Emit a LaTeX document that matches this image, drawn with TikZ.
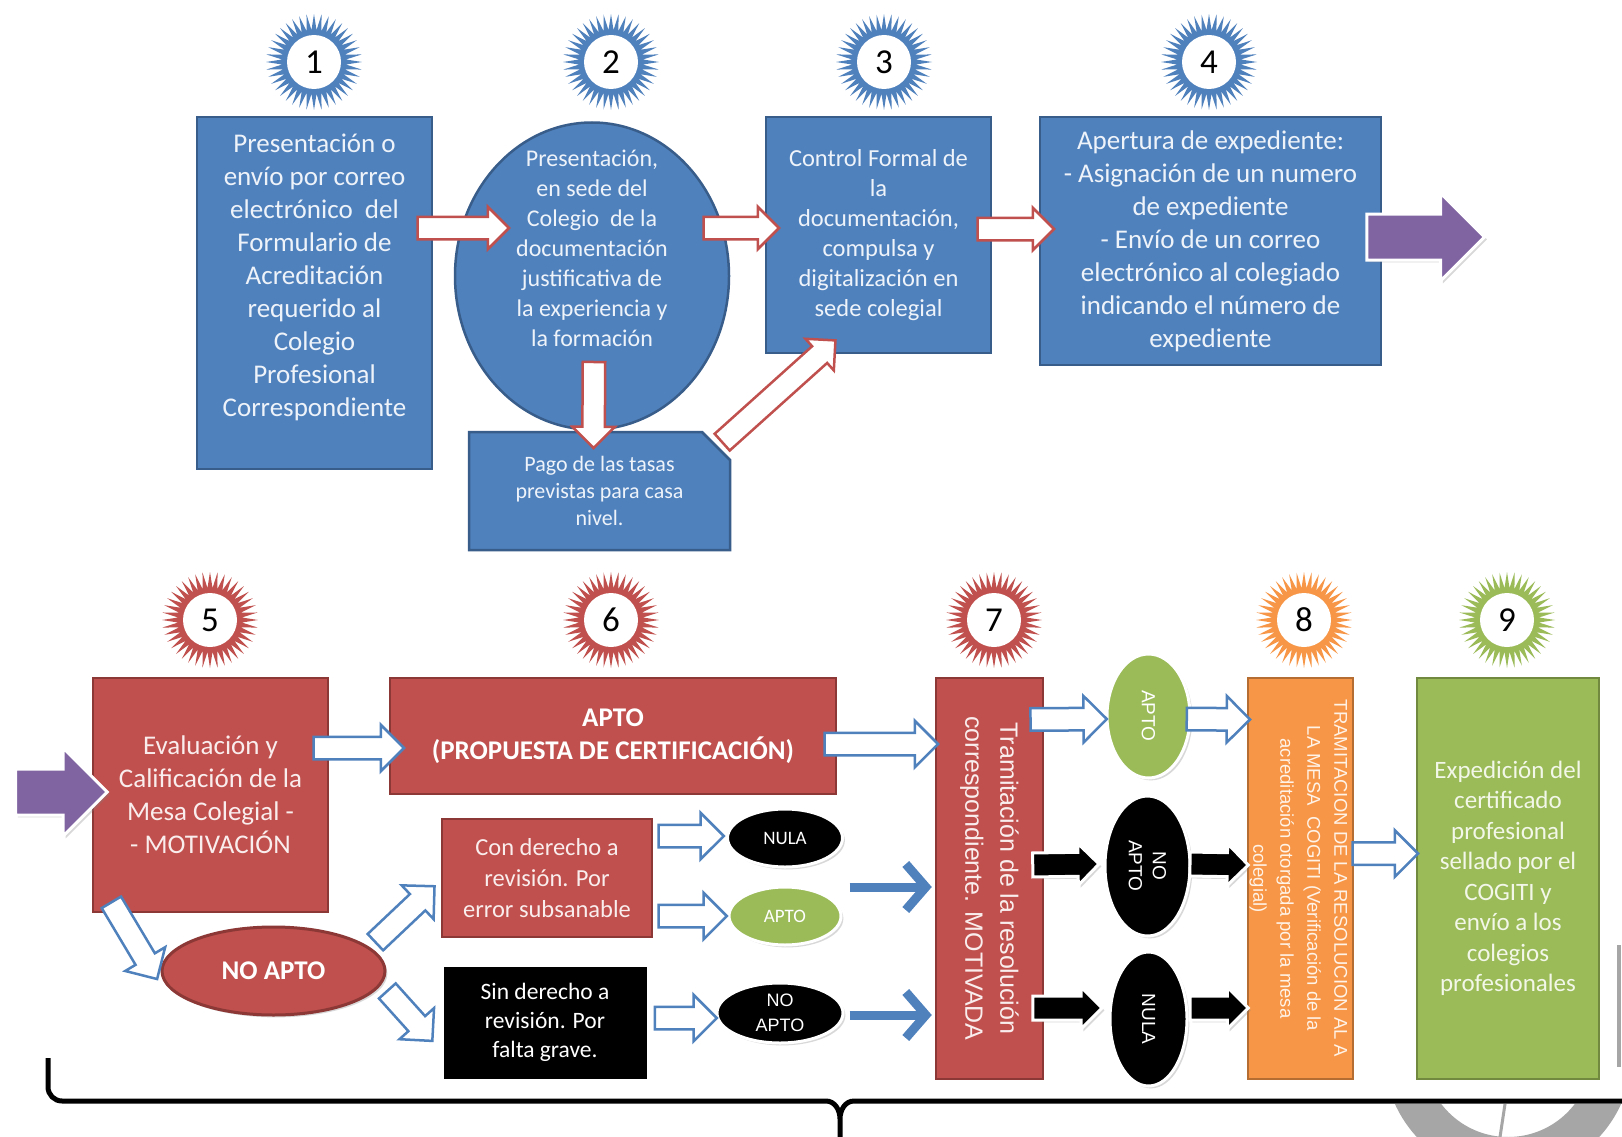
\documentclass[tikz,border=0pt]{standalone}
\usepackage{fontspec}
\setmainfont{Carlito}
\newfontfamily\arialfont{Liberation Sans}
\usetikzlibrary{calc,shapes.geometric,shapes.arrows,shapes.misc,shadows,arrows.meta}
\definecolor{blueF}{HTML}{4F81BD}
\definecolor{blueD}{HTML}{385D8A}
\definecolor{redF}{HTML}{C0504D}
\definecolor{redD}{HTML}{8C3836}
\definecolor{orangeF}{HTML}{F79646}
\definecolor{orangeD}{HTML}{B66D31}
\definecolor{greenF}{HTML}{9BBB59}
\definecolor{greenD}{HTML}{71893F}
\definecolor{purpleF}{HTML}{8064A2}
\definecolor{markgray}{HTML}{A6A6A6}
\definecolor{bluetxt}{HTML}{EEF3FA}
\definecolor{redtxt}{HTML}{FAEDED}
\definecolor{greentxt}{HTML}{F2F7E8}
\definecolor{orangetxt}{HTML}{FFF2E6}
\newcommand\fsz[2]{\fontsize{#1}{#2}\selectfont}
\tikzset{
	box/.style={draw, line width=2.5pt, align=center, inner sep=0pt},
	bluebox/.style={box, fill=blueF, draw=blueD, text=bluetxt},
	redbox/.style={box, fill=redF, draw=redD, text=redtxt},
	orangebox/.style={box, fill=orangeF, draw=orangeD, text=orangetxt},
	greenbox/.style={box, fill=greenF, draw=greenD, text=greentxt},
	blackbox/.style={box, fill=black, draw=white, line width=3pt, text=white, drop shadow={opacity=0.3}},
	oval/.style={ellipse, inner sep=0pt, line width=3pt, align=center, drop shadow={opacity=0.3}},
	badge/.style={star, star points=40, star point ratio=1.5, minimum size=96pt, inner sep=0pt},
	num/.style={circle, fill=white, minimum size=54pt, inner sep=0pt, font=\fsz{35}{35}},
	blk/.style={to path={let \p1=(\tikztostart), \p2=(\tikztotarget),
		\n1={atan2(\y2-\y1,\x2-\x1)}, \n2={veclen(\x2-\x1,\y2-\y1)} in
		node[single arrow, anchor=tail, rotate=\n1, minimum height=\n2, inner xsep=0pt,
		single arrow head indent=0pt, #1] at (\p1) {}}},
	redarr/.style={fill=white, draw=redF, line width=2.5pt, inner ysep=10pt, single arrow head extend=10pt},
	bluearr/.style={fill=white, draw=blueF, line width=2.5pt, inner ysep=10pt, single arrow head extend=12pt},
	blackarr/.style={fill=black, draw=white, line width=3pt, inner ysep=10.5pt, single arrow head extend=9pt, drop shadow={opacity=0.3}},
	purarr/.style={fill=purpleF, draw=white, line width=3pt, inner ysep=21.5pt, single arrow head extend=21pt, drop shadow={opacity=0.3}},
	solidarr/.style={draw=blueF, line width=9pt, -{Straight Barb[length=20pt,width=46pt]}},
}

\begin{document}
\begin{tikzpicture}[x=1pt, y=-1pt]
\useasboundingbox (0,0) rectangle (1622,1137);
\fill[white] (0,0) rectangle (1622,1137);

\foreach \n/\x/\y/\c in {1/314/62/blueF, 2/611/62/blueF, 3/884/62/blueF, 4/1209/62/blueF,
	5/210/620/redF, 6/611/620/redF, 7/994/620/redF, 8/1304/620/orangeF, 9/1507/620/greenF}{
	\node[badge, fill=\c] (st\n) at (\x,\y) {};
	\node[num] (nm\n) at (st\n) {\n};
}

\node[bluebox, minimum width=235pt, minimum height=352pt] (b1) at (314.5,293) {};
\node[text=bluetxt, align=center, font=\fsz{27}{33}] (b1t) at ($(b1)+(0,-16)$) {Presentación o\\ envío por correo\\ electrónico~ del\\ Formulario de\\ Acreditación\\ requerido al\\ Colegio\\ Profesional\\ Correspondiente};
\node[ellipse, box, fill=blueF, draw=blueD, minimum width=274pt, minimum height=307pt] (c2) at (592,276) {};
\node[text=bluetxt, align=center, font=\fsz{24}{30}] (c2t) at ($(c2)+(0,-28)$) {Presentación,\\ en sede del\\ Colegio~ de la\\ documentación\\ justificativa de\\ la experiencia y\\ la formación};
\node[bluebox, minimum width=225pt, minimum height=236pt, font=\fsz{24.5}{30}] (b3) at (878.5,235) {Control Formal de\\ la\\ documentación,\\ compulsa y\\ digitalización en\\ sede colegial};
\node[bluebox, minimum width=341pt, minimum height=248pt, font=\fsz{27}{33}] (b4) at (1210.5,241) {Apertura de expediente:\\ - Asignación de un numero\\ de expediente\\ - Envío de un correo\\ electrónico al colegiado\\ indicando el número de\\ expediente};
\node[bluebox, chamfered rectangle, chamfered rectangle corners=north east, chamfered rectangle xsep=14pt, chamfered rectangle ysep=14pt, minimum width=261pt, minimum height=118pt, font=\fsz{22}{27}] (pago) at (599.5,491) {Pago de las tasas\\ previstas para casa\\ nivel.};

\node[redbox, minimum width=235pt, minimum height=234pt, font=\fsz{27}{33}] (b5) at (210.5,795) {Evaluación y\\ Calificación de la\\ Mesa Colegial -\\ - MOTIVACIÓN};
\node[redbox, text=white, minimum width=446pt, minimum height=116pt, font=\bfseries\fsz{27}{33}] (b6) at (613,736) {APTO\\ (PROPUESTA DE CERTIFICACIÓN)};
\node[redbox, minimum width=107pt, minimum height=401pt] (b7) at (989.5,878.5) {};
\node[rotate=-90, text=redtxt, align=center, font=\arialfont\fsz{25}{35}] (b7t) at (b7) {Tramitación de la resolución\\ correspondiente. MOTIVADA};
\node[orangebox, minimum width=105pt, minimum height=401pt] (b8) at (1300.5,878.5) {};
\node[rotate=-90, text=orangetxt, align=center, font=\arialfont\fsz{18.5}{27}] (b8t) at ($(b8)+(-2,0)$) {TRAMITACION DE LA RESOLUCION AL A\\ LA MESA~ COGITI (Verificación de la\\ acreditación otorgada por la mesa\\ colegial)};
\node[greenbox, minimum width=182pt, minimum height=401pt, font=\fsz{25}{30.5}] (b9) at (1508,878.5) {Expedición del\\ certificado\\ profesional\\ sellado por el\\ COGITI y\\ envío a los\\ colegios\\ profesionales};

\node[oval, fill=redF, draw=redD, minimum width=223pt, minimum height=88pt, text=white, font=\bfseries\fsz{27}{33}] (noapto) at (273.5,971) {NO APTO};
\node[redbox, minimum width=210pt, minimum height=118pt, font=\fsz{24.5}{31}] (con) at (547,878) {Con derecho a\\ revisión. Por\\ error subsanable};
\node[blackbox, minimum width=206pt, minimum height=115pt, font=\fsz{23.5}{29}] (sin) at (545,1022.5) {Sin derecho a\\ revisión. Por\\ falta grave.};
\node[oval, fill=black, draw=white, minimum width=115pt, minimum height=58pt, text=white, font=\fsz{19}{22}] (nula1) at (785,838) {NULA};
\node[oval, fill=greenF, draw=white, minimum width=112pt, minimum height=58pt, text=white, font=\fsz{19}{22}] (apto1) at (785,916) {APTO};
\node[oval, fill=black, draw=white, minimum width=126pt, minimum height=60pt, text=white, font=\arialfont\fsz{18}{25}] (noapto2) at (780,1013) {NO\\ APTO};

\node[oval, fill=greenF, draw=white, minimum width=83pt, minimum height=124pt] (aptoV) at (1148.5,716) {};
\node[rotate=-90, text=white, font=\arialfont\fsz{19}{22}] (aptoVt) at (aptoV) {APTO};
\node[oval, fill=black, draw=white, minimum width=85pt, minimum height=140pt] (noaptoV) at (1147.5,866) {};
\node[rotate=-90, text=white, align=center, font=\arialfont\fsz{19}{24}] (noaptoVt) at (noaptoV) {NO\\ APTO};
\node[oval, fill=black, draw=white, minimum width=77pt, minimum height=134pt] (nulaV) at (1148.5,1019) {};
\node[rotate=-90, text=white, font=\arialfont\fsz{19}{22}] (nulaVt) at (nulaV) {NULA};

\draw[blk=redarr] ([shift={(-17,-65)}]b1.east) to ([shift={(54,-48)}]c2.west);
\draw[blk=redarr] ([shift={(-28,-48)}]c2.east) to ([shift={(13,-7)}]b3.west);
\draw[blk=redarr] ([shift={(-16,-6)}]b3.east) to ([shift={(14,-12)}]b4.west);
\draw[blk=redarr] ([shift={(2,-70)}]c2.south) to ([shift={(-6,16)}]pago.north);
\draw[blk=redarr] ([shift={(-10,-48)}]pago.east) to ([shift={(-44,-13)}]b3.south);
\coordinate (out4) at (1483,237);
\draw[blk=purarr] ([shift={(-17,-4)}]b4.east) to (out4);

\coordinate (in5) at (14,792);
\draw[blk=purarr] (in5) to ([shift={(14,-3)}]b5.west);
\draw[blk=bluearr] ([shift={(-17,-47)}]b5.east) to ([shift={(14,12)}]b6.west);
\draw[blk=bluearr] ([shift={(-14,8)}]b6.east) to ([shift={(2,-134.5)}]b7.west);
\draw[blk=bluearr] ([shift={(-15,-159)}]b7.east) to ([shift={(0,3)}]aptoV.west);
\draw[blk=bluearr] ([shift={(-6,3)}]aptoV.east) to ([shift={(2,-159)}]b8.west);
\draw[blk=bluearr] ([shift={(-3,-25)}]b8.east) to ([shift={(1,-25)}]b9.west);
\draw[blk=bluearr] ([shift={(19,-12)}]b5.south west) to ([shift={(-4,7)}]noapto.west);
\draw[blk=bluearr] ([shift={(-12,-28)}]noapto.east) to ([shift={(-7,9)}]con.west);
\draw[blk=bluearr] ([shift={(0,19)}]noapto.east) to ([shift={(-9,17.5)}]sin.west);
\draw[blk=bluearr] ([shift={(4,-42)}]con.east) to ([shift={(-3.5,-2)}]nula1.west);
\draw[blk=bluearr] ([shift={(4,38)}]con.east) to ([shift={(-2,0)}]apto1.west);
\draw[blk=bluearr] ([shift={(4,-4.5)}]sin.east) to ([shift={(0,5)}]noapto2.west);
\draw[solidarr] ([shift={(7,-29)}]apto1.east) -- ([shift={(-3,8.5)}]b7.west);
\draw[solidarr] ([shift={(5,2)}]noapto2.east) -- ([shift={(-3,136.5)}]b7.west);
\draw[blk=blackarr] ([shift={(-13,-13.5)}]b7.east) to ([shift={(-6,-2)}]noaptoV.west);
\draw[blk=blackarr] ([shift={(-3,-2)}]noaptoV.east) to ([shift={(0,-13.5)}]b8.west);
\draw[blk=blackarr] ([shift={(-13,129.5)}]b7.east) to ([shift={(-8,-11)}]nulaV.west);
\draw[blk=blackarr] ([shift={(0,-11)}]nulaV.east) to ([shift={(0,129.5)}]b8.west);

\begin{scope}
\clip (1300,1104) rectangle (1622,1137);
\draw[markgray, line width=40pt] (1508,1053) circle (104pt);
\draw[markgray, line width=3pt] (1505,1104) -- (1500,1137);
\end{scope}
\draw[markgray, line width=4pt] (1619,945) -- (1619,1067);
\draw[line width=5pt] (48,1058) -- (48,1087) to[out=-90,in=180] (62,1101) -- (826,1101) to[out=0,in=90] (840,1119) -- (840,1140)
	(840,1119) to[out=90,in=180] (854,1101) -- (1625,1101);
\end{tikzpicture}
\end{document}
